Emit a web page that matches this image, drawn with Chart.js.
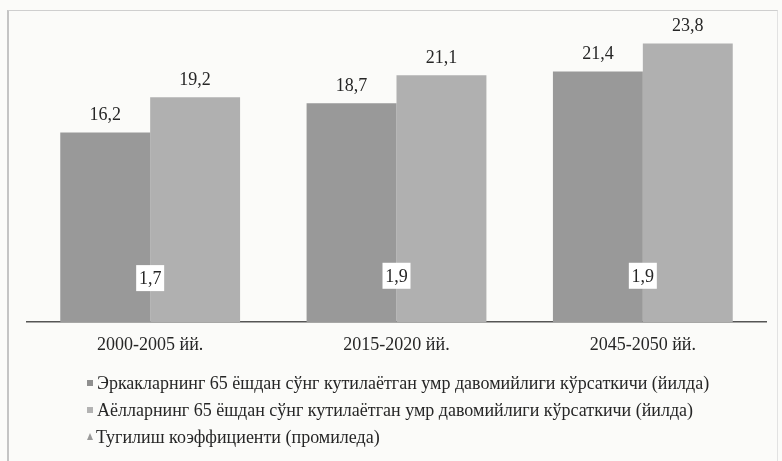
<!DOCTYPE html>
<html>
<head>
<meta charset="utf-8">
<script src="https://cdn.jsdelivr.net/npm/chart.js@4.4.1/dist/chart.umd.min.js"></script>
<style>
  body { margin: 0; background: #fbfbf9; }
  #wrap { position: relative; width: 782px; height: 461px; overflow: hidden; }
  #frame { position: absolute; left: 7px; top: 10px; width: 768px; height: 460px;
           border-left: 2px solid #c4c4c4; border-top: 1px solid #cfcfcf; border-right: 1px solid #e2e2e2; }
  canvas { position: absolute; left: 0; top: 0; }
  .leg { position: absolute; left: 87px; font: 18px "Liberation Serif", serif; color: #262626;
         white-space: nowrap; line-height: 20px; }
  .leg i { display: inline-block; width: 6px; height: 6px; margin-right: 4px; vertical-align: 3px; }
  .leg b { display: inline-block; width: 0; height: 0; margin-right: 3px; vertical-align: 3px;
           border-left: 3.5px solid transparent; border-right: 3.5px solid transparent; border-bottom: 7px solid #9a9a9a; }
</style>
</head>
<body>
<div id="wrap">
  <div id="frame"></div>
  <canvas id="myChart" width="782" height="461"></canvas>
  <div class="leg" style="top:373px"><i style="background:#8f8f8f"></i>Эркакларнинг 65 ёшдан сўнг кутилаётган умр давомийлиги кўрсаткичи (йилда)</div>
  <div class="leg" style="top:400px"><i style="background:#b3b3b3"></i>Аёлларнинг 65 ёшдан сўнг кутилаётган умр давомийлиги кўрсаткичи (йилда)</div>
  <div class="leg" style="top:427px"><b></b>Тугилиш коэффициенти (промиледа)</div>
</div>
<script>
const periods = ["2000-2005 йй.", "2015-2020 йй.", "2045-2050 йй."];
const menLife = [16.2, 18.7, 21.4];
const womenLife = [19.2, 21.1, 23.8];
const birthRate = [1.7, 1.9, 1.9];

const fmt = v => String(v).replace(".", ",");

// value labels: above bars, boxed above the line points
const valueLabels = {
    id: "valueLabels",
    afterDatasetsDraw(chart) {
        const ctx = chart.ctx;
        ctx.save();
        ctx.font = '18px "Liberation Serif", serif';
        ctx.textAlign = "center";
        ctx.textBaseline = "middle";
        chart.data.datasets.forEach((ds, i) => {
            chart.getDatasetMeta(i).data.forEach((el, j) => {
                const txt = fmt(ds.data[j]);
                if (ds.type === "line") {
                    const cy = el.y - 24;
                    ctx.fillStyle = "#ffffff";
                    ctx.fillRect(el.x - 14, cy - 13, 28, 26);
                    ctx.fillStyle = "#262626";
                    ctx.fillText(txt, el.x, cy + 1);
                } else {
                    ctx.fillStyle = "#262626";
                    ctx.fillText(txt, el.x, el.y - 17);
                }
            });
        });
        ctx.restore();
    }
};

new Chart(document.getElementById("myChart").getContext("2d"), {
    type: "bar",
    data: {
        labels: periods,
        datasets: [
            { label: "Эркаклар", data: menLife, backgroundColor: "#999999" },
            { label: "Аёллар", data: womenLife, backgroundColor: "#b0b0b0" },
            { label: "Тугилиш", type: "line", data: birthRate, showLine: false,
              pointRadius: 0, borderColor: "#9a9a9a", backgroundColor: "#9a9a9a" }
        ]
    },
    options: {
        responsive: false,
        animation: false,
        layout: { padding: { left: 27, right: 16, top: 29.5, bottom: 99 } },
        plugins: { legend: { display: false }, tooltip: { enabled: false } },
        datasets: { bar: { barPercentage: 1, categoryPercentage: 0.73 } },
        scales: {
            x: {
                grid: { display: false, drawTicks: false },
                border: { display: true, color: "#555555", width: 1.5 },
                ticks: { padding: 12, color: "#262626", font: { family: "Liberation Serif", size: 18 } },
                afterFit: s => { s.height = 40; }
            },
            y: { display: false, min: 0, max: 25 }
        }
    },
    plugins: [valueLabels]
});
</script>
</body>
</html>
